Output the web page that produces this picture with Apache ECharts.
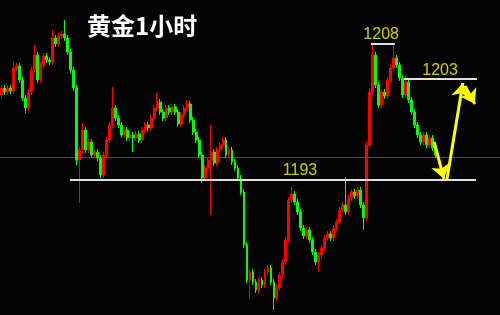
<!DOCTYPE html>
<html>
<head>
<meta charset="utf-8">
<script src="https://cdn.jsdelivr.net/npm/echarts@6/dist/echarts.min.js"></script>
<style>html,body{margin:0;padding:0;background:#040404;}#c{width:500px;height:315px;}</style>
</head>
<body>
<div id="c"></div>
<script>
var titleText = '黄金1小时';
var totalSlots = 167;
var openVals = [1201.5,1202.2,1201.8,1202.2,1201.9,1204.2,1204.4,1203.0,1201.2,1200.2,
 1201.8,1204.0,1205.5,1203.0,1204.5,1205.4,1205.0,1204.8,1207.2,1206.6,
 1207.4,1207.6,1207.2,1205.8,1204.0,1202.2,1195.0,1196.0,1198.0,1196.0,
 1196.8,1195.5,1195.8,1195.2,1193.5,1195.5,1197.0,1198.5,1200.2,1199.2,
 1198.5,1197.5,1198.0,1197.2,1197.5,1197.2,1197.6,1197.0,1198.0,1198.5,
 1198.2,1199.2,1200.2,1200.8,1199.8,1199.2,1200.2,1199.8,1200.3,1199.8,
 1198.6,1199.5,1200.2,1200.6,1199.0,1197.8,1197.0,1195.5,1193.2,1194.2,
 1195.0,1195.8,1194.7,1196.0,1196.5,1197.0,1195.5,1196.0,1194.8,1194.2,
 1193.2,1191.8,1186.5,1183.0,1183.8,1182.8,1182.0,1183.0,1182.5,1183.8,
 1184.2,1182.8,1181.2,1182.2,1183.5,1184.8,1187.0,1191.0,1191.6,1190.8,
 1189.8,1188.2,1187.4,1188.0,1187.0,1185.8,1184.8,1185.5,1186.2,1187.2,
 1187.6,1187.2,1188.2,1188.8,1190.0,1190.5,1189.8,1191.2,1191.8,1191.4,
 1192.0,1190.5,1189.2,1196.5,1201.8,1205.5,1202.5,1200.5,1201.8,1201.4,
 1203.0,1204.2,1205.2,1204.5,1203.2,1201.5,1202.8,1201.0,1199.8,1198.5,
 1197.5,1196.8,1197.5,1196.5,1197.2,1196.2];
var closeVals = [1202.2,1201.8,1202.2,1201.9,1204.2,1204.4,1203.0,1201.2,1200.2,1201.8,
 1204.0,1205.5,1203.0,1204.5,1205.4,1205.0,1204.8,1207.2,1206.6,1207.4,
 1207.6,1207.2,1205.8,1204.0,1202.2,1195.0,1196.0,1198.0,1196.0,1196.8,
 1195.5,1195.8,1195.2,1193.5,1195.5,1197.0,1198.5,1200.2,1199.2,1198.5,
 1197.5,1198.0,1197.2,1197.5,1197.2,1197.6,1197.0,1198.0,1198.5,1198.2,
 1199.2,1200.2,1200.8,1199.8,1199.2,1200.2,1199.8,1200.3,1199.8,1198.6,
 1199.5,1200.2,1200.6,1199.0,1197.8,1197.0,1195.5,1193.2,1194.2,1195.0,
 1195.8,1194.7,1196.0,1196.5,1197.0,1195.5,1196.0,1194.8,1194.2,1193.2,
 1191.8,1186.5,1183.0,1183.8,1182.8,1182.0,1183.0,1182.5,1183.8,1184.2,
 1182.8,1181.2,1182.2,1183.5,1184.8,1187.0,1191.0,1191.6,1190.8,1189.8,
 1188.2,1187.4,1188.0,1187.0,1185.8,1184.8,1185.5,1186.2,1187.2,1187.6,
 1187.2,1188.2,1188.8,1190.0,1190.5,1189.8,1191.2,1191.8,1191.4,1192.0,
 1190.5,1189.2,1196.5,1201.8,1205.5,1202.5,1200.5,1201.8,1201.4,1203.0,
 1204.2,1205.2,1204.5,1203.2,1201.5,1202.8,1201.0,1199.8,1198.5,1197.5,
 1196.8,1197.5,1196.5,1197.2,1196.2,1195.5];
var highVals = [1202.5,1202.5,1202.5,1202.5,1204.8,1204.7,1204.7,1203.3,1201.5,1202.1,
 1204.3,1206.5,1205.8,1204.8,1205.7,1205.7,1205.3,1208.0,1207.5,1207.7,
 1207.9,1209.0,1207.5,1206.1,1204.3,1202.5,1196.3,1198.7,1198.3,1197.1,
 1197.1,1196.1,1196.1,1195.5,1195.8,1197.3,1198.8,1202.3,1200.5,1199.5,
 1198.8,1198.3,1198.3,1197.8,1197.8,1197.9,1197.9,1198.3,1198.8,1198.8,
 1199.5,1200.5,1201.7,1201.1,1200.1,1200.5,1200.5,1200.6,1200.6,1200.1,
 1199.8,1200.5,1201.0,1200.9,1199.3,1198.1,1197.3,1195.8,1194.5,1195.3,
 1198.5,1196.1,1196.3,1196.8,1197.3,1197.3,1196.3,1196.3,1195.1,1194.5,
 1193.5,1192.1,1186.8,1184.1,1184.1,1183.1,1183.3,1183.3,1184.1,1184.5,
 1184.5,1183.1,1182.5,1183.8,1185.1,1187.3,1191.3,1192.3,1191.9,1191.1,
 1190.1,1188.5,1188.3,1188.3,1187.3,1186.1,1185.8,1186.5,1187.5,1187.9,
 1187.9,1188.5,1189.1,1190.3,1190.8,1193.3,1191.5,1192.1,1192.1,1192.3,
 1192.3,1190.8,1196.8,1202.2,1206.5,1205.8,1202.8,1202.1,1202.1,1203.3,
 1204.5,1206.5,1205.5,1204.8,1203.5,1203.5,1203.1,1201.3,1200.1,1198.8,
 1197.8,1197.8,1197.8,1197.5,1197.5,1196.5];
var lowVals = [1201.2,1201.5,1201.5,1201.6,1201.6,1203.9,1202.7,1200.9,1199.7,1199.9,
 1201.5,1203.7,1202.7,1202.7,1204.2,1204.7,1204.5,1204.5,1206.3,1206.3,
 1207.1,1206.9,1205.5,1203.7,1201.9,1194.5,1190.7,1195.7,1195.7,1195.7,
 1195.2,1195.2,1194.9,1193.2,1193.2,1195.2,1196.7,1198.2,1198.9,1198.2,
 1197.2,1197.2,1196.9,1196.9,1195.8,1196.9,1196.7,1196.7,1197.7,1197.9,
 1197.9,1198.9,1199.9,1199.5,1198.9,1198.9,1199.5,1199.5,1199.5,1198.3,
 1198.3,1199.2,1199.9,1198.7,1197.5,1196.7,1195.2,1192.7,1192.9,1193.9,
 1189.5,1194.4,1194.4,1195.7,1196.2,1195.2,1195.2,1194.5,1193.9,1192.9,
 1191.5,1186.2,1182.7,1181.2,1182.5,1181.7,1181.7,1182.2,1182.2,1183.5,
 1182.5,1180.0,1180.9,1181.9,1183.2,1184.5,1186.7,1190.7,1190.5,1189.5,
 1187.9,1187.1,1187.1,1186.7,1185.5,1184.5,1183.8,1185.2,1185.9,1186.9,
 1186.9,1186.9,1187.9,1188.5,1189.7,1189.5,1189.5,1190.9,1191.1,1191.1,
 1190.2,1188.0,1188.9,1196.2,1201.5,1202.2,1200.2,1200.2,1201.1,1201.1,
 1202.7,1203.9,1204.2,1202.9,1201.2,1201.2,1200.7,1199.5,1198.2,1197.2,
 1196.5,1196.5,1196.2,1196.2,1195.9,1195.2];

// annotation levels (price), their span in bar-index units, and their label texts
var levelPrices = [1193.0, 1206.6, 1203.1];
var levelStart = [22.9, 123.4, 134.4];
var levelEnd = [158.5, 131.4, 158.8];
var levelLabels = ['1193', '1208', '1203'];
var levelLabelX = [99.7, 126.8, 146.5];
var levelLabelY = [1193.9, 1207.5, 1203.9];
var currentPrice = 1195.3;
// forecast arrows: [startIndex, startPrice, endIndex, endPrice]
var arrowSegs = [
  [144.5, 1196.8, 147.8, 1193.1],
  [148.8, 1193.1, 154.1, 1202.7],
  [154.8, 1202.4, 158.1, 1200.6]
];

var categories = [];
for (var k = 0; k < totalSlots; k++) categories.push(String(k));
var candleData = openVals.map(function (o, i) {
  return [o, closeVals[i], lowVals[i], highVals[i]];
});

var chart = echarts.init(document.getElementById('c'), null, {renderer: 'canvas'});
chart.setOption({
  backgroundColor: '#040404',
  animation: false,
  title: {
    text: titleText, left: 82, top: 9,
    textStyle: {color: '#ffffff', fontSize: 24, fontWeight: 'bold', fontFamily: 'Noto Sans CJK SC'}
  },
  grid: {left: 0, right: 0, top: 0, bottom: 0},
  xAxis: [
    {type: 'category', data: categories, boundaryGap: true, show: false},
    {type: 'value', min: -0.5, max: totalSlots - 0.5, show: false}
  ],
  yAxis: {type: 'value', min: 1179.5, max: 1211, show: false, splitLine: {show: false}},
  series: [
    {
      type: 'lines', coordinateSystem: 'cartesian2d', xAxisIndex: 1, silent: true,
      lineStyle: {color: '#4e4e58', width: 1, opacity: 1},
      data: [{coords: [[-0.5, currentPrice], [totalSlots - 0.5, currentPrice]]}],
      z: 1
    },
    {
      type: 'candlestick', xAxisIndex: 0, data: candleData, barWidth: 2.4,
      itemStyle: {color: '#ff0000', color0: '#00ff00', borderColor: '#ff0000', borderColor0: '#00ff00', borderWidth: 1},
      z: 2
    },
    {
      type: 'lines', coordinateSystem: 'cartesian2d', xAxisIndex: 1, silent: true,
      lineStyle: {color: '#e0e0e0', width: 2, opacity: 1},
      data: levelPrices.map(function (p, i) { return {coords: [[levelStart[i], p], [levelEnd[i], p]]}; }),
      z: 3
    },
    {
      type: 'scatter', xAxisIndex: 1, symbolSize: 0, silent: true,
      data: levelLabelX.map(function (x, i) { return [x, levelLabelY[i]]; }),
      label: {
        show: true, position: 'inside', color: '#ffff00', fontSize: 16,
        fontFamily: 'Liberation Sans, Arial, sans-serif',
        formatter: function (p) { return levelLabels[p.dataIndex]; }
      },
      z: 4
    },
    {
      type: 'lines', coordinateSystem: 'cartesian2d', xAxisIndex: 1, silent: true,
      symbol: ['none', 'arrow'], symbolSize: 14,
      lineStyle: {color: '#ffff00', width: 3, opacity: 1},
      data: arrowSegs.map(function (s) { return {coords: [[s[0], s[1]], [s[2], s[3]]]}; }),
      z: 5
    }
  ]
});
</script>
</body>
</html>
